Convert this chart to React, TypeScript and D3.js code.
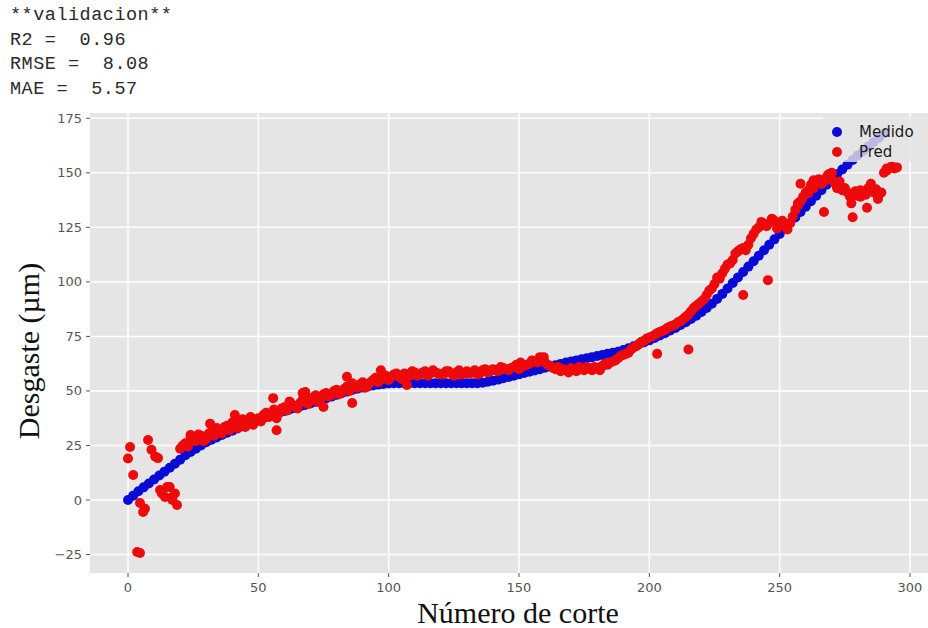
import React from "react";
import * as d3 from "d3";

// ---------- data ----------
const headerLines = ["**validacion**", "R2 =  0.96", "RMSE =  8.08", "MAE =  5.57"];
const xTicks = [0, 50, 100, 150, 200, 250, 300];
const yTicks = [-25, 0, 25, 50, 75, 100, 125, 150, 175];
const legendLabels = ["Medido", "Pred"];

// Medido: one value every 2 cuts, starting at cut 0
const medidoStep = 2;
const medido = [
  0, 2, 4, 5.8, 7.6, 9.4, 11.2, 13, 14.8, 16.6,
  18.5, 20.5, 22, 23.5, 25, 26.5, 27.6, 28.7, 29.8, 30.8,
  31.8, 32.8, 33.8, 34.8, 35.8, 36.8, 37.6, 38.4, 39.2, 40,
  40.8, 41.5, 42.2, 42.9, 43.6, 44.3, 45, 45.8, 46.6, 47.4,
  48.2, 49, 49.7, 50.4, 51, 51.6, 52.1, 52.5, 52.9, 53.2,
  53.4, 53.5, 53.5, 53.5, 53.5, 53.5, 53.5, 53.5, 53.5, 53.5,
  53.5, 53.5, 53.5, 53.5, 53.5, 53.5, 53.5, 53.5, 53.8, 54.2,
  54.7, 55.2, 55.8, 56.4, 57, 57.6, 58.2, 58.8, 59.4, 60,
  60.6, 61.2, 61.8, 62.4, 63, 63.5, 64, 64.5, 65, 65.5,
  66, 66.5, 67, 67.5, 68, 68.8, 69.6, 70.5, 71.4, 72.3,
  73.2, 74.3, 75.4, 76.5, 77.7, 78.9, 80.2, 81.5, 83, 84.5,
  86.2, 88, 90, 92.2, 94.5, 97, 99.5, 102, 104.5, 107,
  109.5, 112, 114.5, 117, 119.5, 122, 124.5, 127, 129.5, 132,
  134.5, 137, 139.5, 142, 144.5, 147, 149.3, 151.5, 153.7, 155.9,
  158, 160, 162, 164, 166, 168,
];

// Pred main band (even cuts): one value every 2 cuts, starting at cut 20
const predBandStart = 20;
const predBandStep = 2;
const predBand = [
  23.5, 26, 28.5, 27, 29.5, 28, 31, 33, 30.5, 34, // 20-38
  35.5, 33, 37, 36, 34.5, 37.5, 39, 38, 41.5, 40, // 40-58
  42.5, 45, 43, 44.5, 47, 45.5, 48, 46.5, 49, 48, // 60-78
  50.5, 49.5, 52, 53.5, 51.5, 54, 52.5, 55, 54, 56.5, // 80-98
  55, 57.5, 56.5, 58, 57, 58.5, 57.5, 59, 58, 58.5, // 100-118
  57.5, 59, 58, 58.5, 57.5, 59, 58.5, 57.5, 59.5, 58.5, // 120-138
  60, 59, 60.5, 59.5, 61, 60, 61.5, 62.5, 63.5, 65.5, // 140-158
  63, 61.5, 60, 59, 59.5, 60.5, 59, 60, 61, 59.5, // 160-178
  60.5, 61.5, 62, 63.5, 65, 66.5, 67.5, 70, 71.5, 73, // 180-198
  74.5, 75.5, 77, 78, 79.5, 80.5, 82, 84, 86.5, 89, // 200-218
  91, 94, 97, 102, 104, 108, 110, 114, 115.5, 117, // 220-238
  122, 125, 126.5, 127, 128, 126, 125.5, 127, 133, 137, // 240-258
  141, 144.5, 146, 145, 148, 147, 144, 142, 141, 140, // 260-278
  139.5, 141, 143, 141, 140, 150, 152, 152, // 280-294
];

// Pred second band (odd cuts): one value every 2 cuts, starting at cut 21
const predBand2Start = 21;
const predBand2 = [
  25, 24.5, 27.5, 30, 27, 30.5, 29.5, 32, 33.5, 32, // 21-39
  36, 35, 33.5, 38, 36.5, 36, 40, 39, 37.5, 42, // 41-59
  41, 43.5, 42, 46, 44, 47, 45, 48.5, 47.5, 50, // 61-79
  48.5, 51, 50, 52.5, 53, 51.5, 54, 56, 55, 57, // 81-99
  56.5, 58, 55.5, 57.5, 59, 57, 58.5, 57, 59.5, 58, // 101-119
  57.5, 59, 57, 59.5, 58, 58, 59.5, 58, 60, 59, // 121-139
  59.5, 61, 60, 60.5, 62, 61, 62, 64, 63, 64.5, // 141-159
  62, 60.5, 61, 60, 58.5, 60, 61, 59.5, 60.5, 61, // 161-179
  59.5, 62.5, 63, 64, 66, 67, 69, 70.5, 72.5, 74, // 181-199
  75, 76.5, 77.5, 79, 80, 81.5, 83, 85, 88, 90, // 201-219
  92, 96, 99, 101.5, 106, 108.5, 113, 115, 114.5, 120, // 221-239
  124, 127.5, 125.5, 129, 124.5, 128, 124, 130, 135, 139, // 241-259
  142, 143, 147, 146, 149.5, 145.5, 146, 143, 139, 141.5, // 261-279
  142, 140, 145, 142.5, 141, 151, 153, // 281-293
];

// Pred scattered points [cut, value]
const predScatter: [number, number][] = [
  [0.8, 24.3], [0, 19], [2, 11.5], [7.7, 27.5], [9, 23], [10.4, 20], [11.5, 19.2],
  [4.6, -1.4], [5.8, -5.5], [6.5, -4], [3.5, -23.8], [4.6, -24.3],
  [12.3, 4.6], [15, 6], [16, 6], [14.2, 1.4], [17, 1.4], [17, 0], [18.8, -2.3], [18, 3], [13, 3],
  [24, 29.8], [31.5, 35], [41, 39], [55.7, 46.7], [62, 45], [67, 49], [68, 49.5], [84, 56.5], [97, 59.5],
  [57, 32], [75, 42.6], [86, 44.5], [107, 52.7], [150.6, 63], [159.5, 65.5],
  [203, 67], [215, 69], [236, 94], [245.5, 100.8],
  [257, 136], [261, 140.6], [266, 145], [270, 150],
  [267, 132], [278, 129.6], [283.5, 134], [277.5, 136], [287.7, 138],
  [258, 145], [263, 146.6], [268.5, 149], [272, 143], [281, 139], [285, 143.5],
  [291, 152], [295, 152.5],
];

// ---------- component ----------
const W = 928;
const H = 628;
const panel = { left: 90, top: 113, right: 928, bottom: 573 };

export default function App() {
  const x = d3.scaleLinear().domain([0, 300]).range([128, 910]);
  const y = d3.scaleLinear().domain([0, 175]).range([500, 118.3]);

  const medidoPts = medido.map((v, i) => [i * medidoStep, v] as [number, number]);
  const predPts: [number, number][] = [
    ...predBand.map((v, i) => [predBandStart + i * predBandStep, v] as [number, number]),
    ...predBand2.map((v, i) => [predBand2Start + i * predBandStep, v] as [number, number]),
    ...predScatter,
  ];

  const blue = "#0a0ad8";
  const red = "#ee0a0a";
  const r = 5;
  const tickColor = "#555";

  return (
    <svg
      width={W}
      height={H}
      style={{ position: "absolute", left: 0, top: 0, background: "#fff" }}
    >
      {/* header text */}
      {headerLines.map((t, i) => (
        <text
          key={i}
          x={10}
          y={20 + i * 24.7}
          fontFamily="'Liberation Mono', 'DejaVu Sans Mono', monospace"
          fontSize={18.5}
          letterSpacing={0.5}
          fill="#2a2a2a"
          style={{ whiteSpace: "pre" }}
        >
          {t}
        </text>
      ))}

      {/* panel */}
      <rect
        x={panel.left}
        y={panel.top}
        width={panel.right - panel.left}
        height={panel.bottom - panel.top}
        fill="#E5E5E5"
      />
      {xTicks.map((t) => (
        <line key={"gx" + t} x1={x(t)} x2={x(t)} y1={panel.top} y2={panel.bottom} stroke="#fff" strokeWidth={1.5} />
      ))}
      {yTicks.map((t) => (
        <line key={"gy" + t} x1={panel.left} x2={panel.right} y1={y(t)} y2={y(t)} stroke="#fff" strokeWidth={1.5} />
      ))}

      {/* ticks */}
      {xTicks.map((t) => (
        <g key={"tx" + t}>
          <line x1={x(t)} x2={x(t)} y1={panel.bottom} y2={panel.bottom + 4} stroke={tickColor} strokeWidth={1} />
          <text
            x={x(t)}
            y={panel.bottom + 19}
            textAnchor="middle"
            fontFamily="'DejaVu Sans', sans-serif"
            fontSize={13}
            fill={tickColor}
          >
            {t}
          </text>
        </g>
      ))}
      {yTicks.map((t) => (
        <g key={"ty" + t}>
          <line x1={panel.left - 4} x2={panel.left} y1={y(t)} y2={y(t)} stroke={tickColor} strokeWidth={1} />
          <text
            x={panel.left - 8}
            y={y(t)}
            dy="0.35em"
            textAnchor="end"
            fontFamily="'DejaVu Sans', sans-serif"
            fontSize={13}
            fill={tickColor}
          >
            {t < 0 ? "\u2212" + Math.abs(t) : t}
          </text>
        </g>
      ))}

      {/* data */}
      <g>
        {medidoPts.map(([cx, cy], i) => (
          <circle key={"m" + i} cx={x(cx)} cy={y(cy)} r={r} fill={blue} />
        ))}
      </g>
      <g>
        {predPts.map(([cx, cy], i) => (
          <circle key={"p" + i} cx={x(cx)} cy={y(cy)} r={r} fill={red} />
        ))}
      </g>

      {/* legend */}
      <rect x={822} y={117} width={112} height={45} rx={4} fill="#E5E5E5" fillOpacity={0.8} />
      {legendLabels.map((l, i) => (
        <g key={l}>
          <circle cx={837} cy={132 + i * 20} r={r} fill={i === 0 ? blue : red} />
          <text
            x={859}
            y={132 + i * 20}
            dy="0.35em"
            fontFamily="'DejaVu Sans', sans-serif"
            fontSize={15}
            fill="#1a1a1a"
          >
            {l}
          </text>
        </g>
      ))}

      {/* axis labels */}
      <text
        x={518}
        y={623}
        textAnchor="middle"
        fontFamily="'Liberation Serif', 'Times New Roman', serif"
        fontSize={30}
        fill="#111"
      >
        Número de corte
      </text>
      <text
        transform="translate(39,351) rotate(-90)"
        textAnchor="middle"
        fontFamily="'Liberation Serif', 'Times New Roman', serif"
        fontSize={30}
        fill="#111"
      >
        Desgaste (µm)
      </text>
    </svg>
  );
}
